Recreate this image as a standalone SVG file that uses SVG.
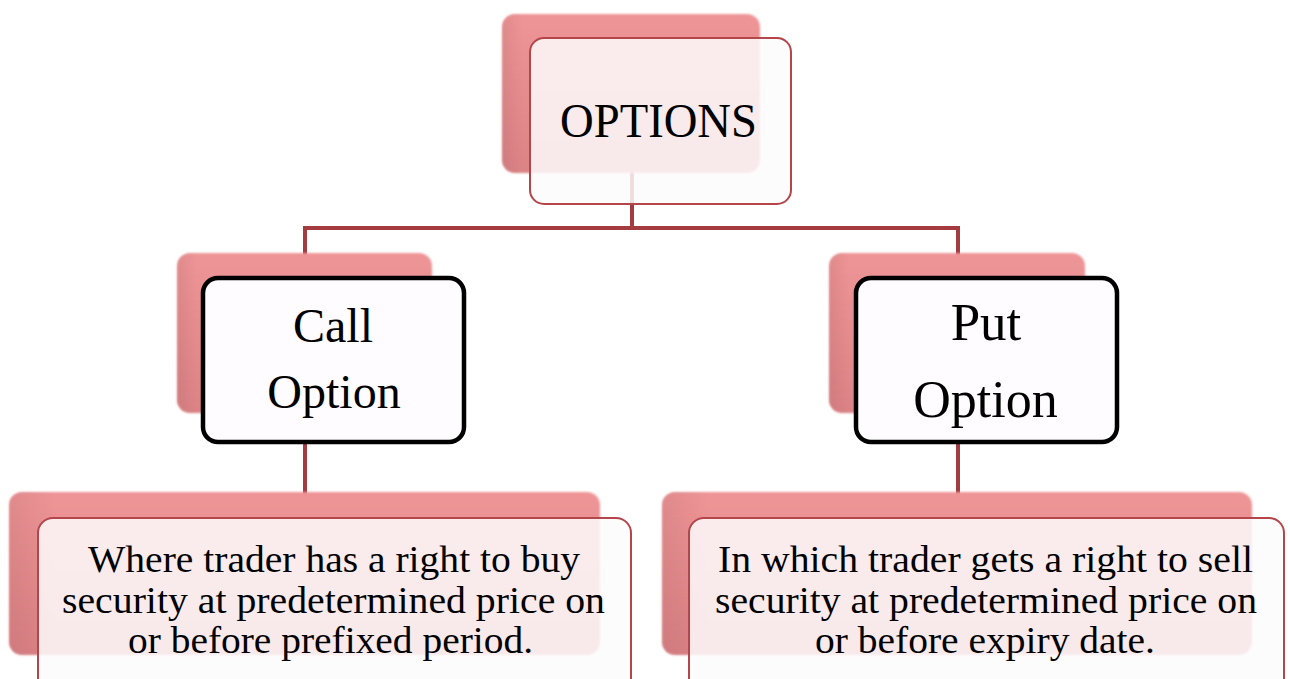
<svg xmlns="http://www.w3.org/2000/svg" width="1290" height="679" viewBox="0 0 1290 679">
  <defs>
    <linearGradient id="backGrad" x1="0" y1="0" x2="0" y2="1">
      <stop offset="0" stop-color="#ee9597"/>
      <stop offset="1" stop-color="#dc8386"/>
    </linearGradient>
    <linearGradient id="bevel" x1="0" y1="0" x2="1" y2="0">
      <stop offset="0" stop-color="#7a3a3c" stop-opacity="0.12"/>
      <stop offset="0.08" stop-color="#7a3a3c" stop-opacity="0"/>
    </linearGradient>
    <filter id="soft" x="-5%" y="-5%" width="110%" height="110%">
      <feGaussianBlur stdDeviation="1.2"/>
    </filter>
    <style>
      .back { fill: url(#backGrad); filter: url(#soft); }
      .bevel { fill: url(#bevel); }
      .front { fill: #fdfbfd; fill-opacity: 0.85; stroke: #b3454b; stroke-width: 2; }
      .mid { fill: #fefcfe; stroke: #000000; stroke-width: 4.5; }
      .conn { fill: none; stroke: #a33b3f; stroke-width: 4; }
      .t { font-family: "Liberation Serif", "Times New Roman", serif; fill: #000000; text-anchor: middle; }
      .d { font-size: 38px; }
    </style>
  </defs>

  <g id="connectors">
    <path class="conn" d="M632,172 V228 M305,228 H958 M305,226 V256 M958,226 V256 M305,440 V495 M958,440 V495"/>
  </g>

  <g id="options">
    <rect class="back" x="502" y="14" width="258" height="159" rx="13"/>
    <rect class="bevel" x="502" y="14" width="258" height="159" rx="13"/>
    <rect class="front" x="530" y="38" width="261" height="166" rx="14"/>
    <text class="t" x="658.5" y="137" font-size="49" textLength="197" lengthAdjust="spacingAndGlyphs">OPTIONS</text>
  </g>

  <g id="call-option">
    <rect class="back" x="177" y="253" width="255" height="160" rx="13"/>
    <rect class="bevel" x="177" y="253" width="255" height="160" rx="13"/>
    <rect class="mid" x="203" y="278" width="261" height="164" rx="15"/>
    <text class="t" x="333" y="342" font-size="48">Call</text>
    <text class="t" x="334" y="408" font-size="48">Option</text>
  </g>

  <g id="put-option">
    <rect class="back" x="829" y="253" width="256" height="160" rx="13"/>
    <rect class="bevel" x="829" y="253" width="256" height="160" rx="13"/>
    <rect class="mid" x="856" y="278" width="261" height="164" rx="15"/>
    <text class="t" x="986" y="340" font-size="53">Put</text>
    <text class="t" x="985.5" y="417" font-size="52">Option</text>
  </g>

  <g id="call-desc">
    <rect class="back" x="9" y="492" width="591" height="163" rx="13"/>
    <rect class="bevel" x="9" y="492" width="591" height="163" rx="13"/>
    <rect class="front" x="38" y="518" width="593" height="180" rx="15"/>
    <text class="t d" x="334" y="572" textLength="492" lengthAdjust="spacingAndGlyphs">Where trader has a right to buy</text>
    <text class="t d" x="333.5" y="613" textLength="543" lengthAdjust="spacingAndGlyphs">security at predetermined price on</text>
    <text class="t d" x="330.5" y="653" textLength="405" lengthAdjust="spacingAndGlyphs">or before prefixed period.</text>
  </g>

  <g id="put-desc">
    <rect class="back" x="662" y="492" width="590" height="163" rx="13"/>
    <rect class="bevel" x="662" y="492" width="590" height="163" rx="13"/>
    <rect class="front" x="689" y="518" width="595" height="180" rx="15"/>
    <text class="t d" x="985.5" y="572" textLength="535" lengthAdjust="spacingAndGlyphs">In which trader gets a right to sell</text>
    <text class="t d" x="986" y="613" textLength="542" lengthAdjust="spacingAndGlyphs">security at predetermined price on</text>
    <text class="t d" x="985" y="653" textLength="340" lengthAdjust="spacingAndGlyphs">or before expiry date.</text>
  </g>
</svg>
